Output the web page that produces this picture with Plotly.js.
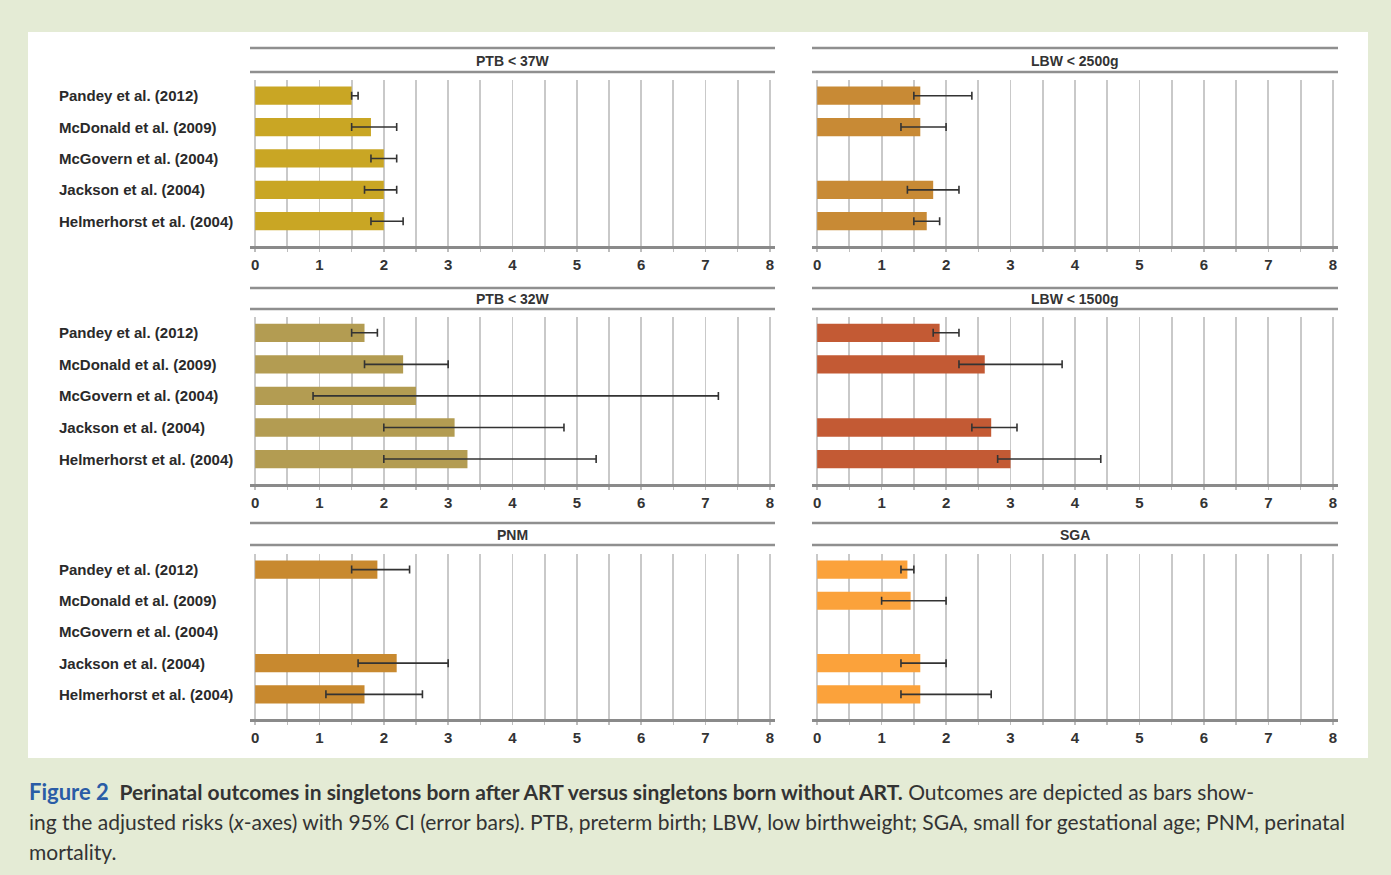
<!DOCTYPE html>
<html>
<head>
<meta charset="utf-8">
<script src="https://cdn.plot.ly/plotly-3.0.1.min.js"></script>
<style>html,body{margin:0;padding:0;background:#e4ebd5;}#chart{width:1391px;height:875px;}</style>
</head>
<body>
<div id="chart"></div>
<script>
// ---- data ----
const studies = ['Pandey et al. (2012)', 'McDonald et al. (2009)', 'McGovern et al. (2004)', 'Jackson et al. (2004)', 'Helmerhorst et al. (2004)'];
const panelTitles = ['PTB &lt; 37W', 'LBW &lt; 2500g', 'PTB &lt; 32W', 'LBW &lt; 1500g', 'PNM', 'SGA'];
const xTickVals = [0, 1, 2, 3, 4, 5, 6, 7, 8];
const xTickText = ['0', '1', '2', '3', '4', '5', '6', '7', '8'];

const ptb37 = [1.5, 1.8, 2.0, 2.0, 2.0];
const ptb37Lo = [1.5, 1.5, 1.8, 1.7, 1.8];
const ptb37Hi = [1.6, 2.2, 2.2, 2.2, 2.3];

const lbw2500 = [1.6, 1.6, null, 1.8, 1.7];
const lbw2500Lo = [1.5, 1.3, null, 1.4, 1.5];
const lbw2500Hi = [2.4, 2.0, null, 2.2, 1.9];

const ptb32 = [1.7, 2.3, 2.5, 3.1, 3.3];
const ptb32Lo = [1.5, 1.7, 0.9, 2.0, 2.0];
const ptb32Hi = [1.9, 3.0, 7.2, 4.8, 5.3];

const lbw1500 = [1.9, 2.6, null, 2.7, 3.0];
const lbw1500Lo = [1.8, 2.2, null, 2.4, 2.8];
const lbw1500Hi = [2.2, 3.8, null, 3.1, 4.4];

const pnm = [1.9, null, null, 2.2, 1.7];
const pnmLo = [1.5, null, null, 1.6, 1.1];
const pnmHi = [2.4, null, null, 3.0, 2.6];

const sga = [1.4, 1.45, null, 1.6, 1.6];
const sgaLo = [1.3, 1.0, null, 1.3, 1.3];
const sgaHi = [1.5, 2.0, null, 2.0, 2.7];

const colors = ['#c9a624', '#c88a35', '#b39c52', '#c35a34', '#c8892f', '#fba23b'];

// ---- layout helpers ----
const W = 1391, H = 875;
const fx = p => p / W;
const fy = p => 1 - p / H;

const cols = [[250, 775], [812, 1338]];
const rows = [[80, 246], [317, 484], [554, 719]];
const titleRows = [[48, 61, 72], [288, 299, 309], [523, 535, 545]];

const series = [
  [ptb37, ptb37Lo, ptb37Hi],
  [lbw2500, lbw2500Lo, lbw2500Hi],
  [ptb32, ptb32Lo, ptb32Hi],
  [lbw1500, lbw1500Lo, lbw1500Hi],
  [pnm, pnmLo, pnmHi],
  [sga, sgaLo, sgaHi]
];

const traces = [];
const layout = {
  width: W, height: H,
  margin: {l: 0, r: 0, t: 0, b: 0},
  paper_bgcolor: '#e4ebd5',
  plot_bgcolor: 'rgba(0,0,0,0)',
  showlegend: false,
  barmode: 'overlay',
  shapes: [{type: 'rect', xref: 'paper', yref: 'paper', x0: fx(28), x1: fx(1368), y0: fy(758), y1: fy(32), fillcolor: '#ffffff', line: {width: 0}, layer: 'below'}],
  annotations: []
};

const chartFont = 'Liberation Sans, Arial, sans-serif';

series.forEach((s, i) => {
  const c = i % 2, r = Math.floor(i / 2);
  const n = i + 1;
  const xa = 'x' + (n === 1 ? '' : n), ya = 'y' + (n === 1 ? '' : n);
  const [v, lo, hi] = s;
  traces.push({
    type: 'bar', orientation: 'h',
    x: v, y: studies,
    xaxis: xa, yaxis: ya,
    width: 0.58,
    marker: {color: colors[i], line: {width: 0}},
    error_x: {
      type: 'data', symmetric: false,
      array: v.map((d, k) => d == null ? null : hi[k] - d),
      arrayminus: v.map((d, k) => d == null ? null : d - lo[k]),
      color: '#333333', thickness: 1.6, width: 4
    },
    hoverinfo: 'x+y'
  });
  layout['xaxis' + (n === 1 ? '' : n)] = {
    domain: [fx(cols[c][0]), fx(cols[c][1])],
    anchor: ya,
    range: [-0.08, 8.08],
    tickvals: xTickVals, ticktext: xTickText,
    showgrid: true, gridcolor: '#c9c9c9', gridwidth: 1.8,
    zeroline: false,
    showline: true, linecolor: '#8a8a8a', linewidth: 3,
    ticks: 'outside', ticklen: 3, tickcolor: '#bdbdbd', tickwidth: 1.5,
    minor: {tickvals: [0.5, 1.5, 2.5, 3.5, 4.5, 5.5, 6.5, 7.5], showgrid: true, gridcolor: '#c9c9c9', gridwidth: 1.8, ticks: 'outside', ticklen: 3, tickcolor: '#bdbdbd'},
    tickfont: {family: chartFont, size: 15, color: '#333', weight: 'bold'},
    fixedrange: true
  };
  layout['yaxis' + (n === 1 ? '' : n)] = {
    domain: [fy(rows[r][1]), fy(rows[r][0])],
    anchor: xa,
    type: 'category', categoryarray: studies, categoryorder: 'array',
    range: [4.79, -0.5],
    showticklabels: false, showgrid: false, zeroline: false, showline: false, ticks: '',
    fixedrange: true
  };
  // title lines
  const tr = titleRows[r];
  [tr[0], tr[2]].forEach(py => {
    layout.shapes.push({type: 'line', xref: 'paper', yref: 'paper', x0: fx(cols[c][0]), x1: fx(cols[c][1]), y0: fy(py), y1: fy(py), line: {color: '#8f8f8f', width: 2.6}});
  });
  layout.annotations.push({
    xref: 'paper', yref: 'paper', x: fx((cols[c][0] + cols[c][1]) / 2), y: fy(tr[1]),
    text: '<b>' + panelTitles[i] + '</b>', showarrow: false, xanchor: 'center', yanchor: 'middle',
    font: {family: chartFont, size: 14, color: '#333'}
  });
  if (c === 0) {
    studies.forEach(st => {
      layout.annotations.push({
        xref: 'paper', yref: ya, x: fx(57), y: st,
        text: '<b>' + st + '</b>', showarrow: false, xanchor: 'left', yanchor: 'middle',
        font: {family: chartFont, size: 15, color: '#2a2a2a'}
      });
    });
  }
});

// caption
const capFont = 'Lato, Open Sans, sans-serif';
const capLines = [
  '<span style="color:#2a5ca6;font-size:22px"><b>Figure 2</b></span>  <b>Perinatal outcomes in singletons born after ART versus singletons born without ART.</b> Outcomes are depicted as bars show-',
  'ing the adjusted risks (<i>x</i>-axes) with 95% CI (error bars). PTB, preterm birth; LBW, low birthweight; SGA, small for gestational age; PNM, perinatal',
  'mortality.'
];
[791, 821, 851].forEach((py, k) => {
  layout.annotations.push({
    xref: 'paper', yref: 'paper', x: fx(27), y: fy(py),
    text: capLines[k], showarrow: false, xanchor: 'left', yanchor: 'middle',
    font: {family: capFont, size: 21, color: '#333'}
  });
});

Plotly.newPlot('chart', traces, layout, {displayModeBar: false, staticPlot: true});
</script>
</body>
</html>
